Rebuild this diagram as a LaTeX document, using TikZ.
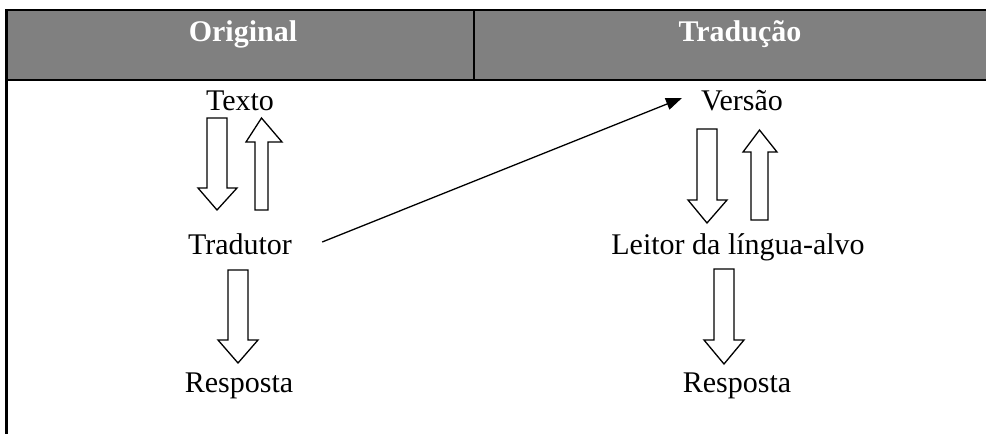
\documentclass[tikz,border=0pt]{standalone}
\usepackage{fontspec}
\setmainfont{Liberation Serif}
\usetikzlibrary{arrows.meta}
\newcommand\blockdown[7]{% l r top hl hr hs tip
  \draw[blockarrow] (#1,#3) -- (#2,#3) -- (#2,#6) -- (#5,#6) -- ({(#1+#2)/2},#7) -- (#4,#6) -- (#1,#6) -- cycle;}
\newcommand\blockup[7]{% l r bottom hl hr hs tip
  \draw[blockarrow] (#1,#3) -- (#2,#3) -- (#2,#6) -- (#5,#6) -- ({(#1+#2)/2},#7) -- (#4,#6) -- (#1,#6) -- cycle;}
\tikzset{
  blockarrow/.style={draw=black, line width=1.3pt, line join=miter, fill=white},
  lbl/.style={font=\fontsize{30}{36}\selectfont, inner sep=0pt, anchor=base},
  hdr/.style={font=\fontsize{30}{36}\selectfont\bfseries, text=white, inner sep=0pt, anchor=base},
  border/.style={line width=2.6pt, black},
}
\begin{document}
\begin{tikzpicture}[x=1pt,y=-1pt]
\useasboundingbox (0,0) rectangle (986,434);
\fill[white] (0,0) rectangle (986,434);
% header
\fill[black!50] (6,10) rectangle (986,80);
\draw[border] (5,10) -- (986,10);
\draw[border] (5,80) -- (986,80);
\draw[border] (6.5,9) -- (6.5,434);
\draw[border] (474,10) -- (474,80);
\node[hdr] (horig) at (243,41) {Original};
\node[hdr] (htrad) at (740,41) {Tradução};
% left column
\node[lbl] (texto) at (240,110) {Texto};
\node[lbl] (trad) at (240,254) {Tradutor};
\node[lbl] (resp1) at (239,392) {Resposta};
\blockdown{207}{227}{118}{198}{237}{188}{210}
\blockup{255}{268}{210}{246}{282}{142}{118}
\blockdown{228}{248}{270}{218}{258}{340}{363}
% right column
\node[lbl] (versao) at (742,110) {Versão};
\node[lbl] (leitor) at (738,254) {Leitor da língua-alvo};
\node[lbl] (resp2) at (737,392) {Resposta};
\blockdown{697}{717}{129}{688}{727}{200}{223}
\blockup{751}{768}{220}{743}{777}{152}{130}
\blockdown{714}{734}{269}{704}{744}{340}{364}
% connector
\coordinate (cstart) at ([xshift=30pt,yshift=12pt]trad.base east);
\coordinate (cend) at ([xshift=-19pt,yshift=12pt]versao.base west);
\draw[line width=1.3pt, -{Triangle[length=16pt,width=12pt]}] (cstart) -- (cend);
\end{tikzpicture}
\end{document}
